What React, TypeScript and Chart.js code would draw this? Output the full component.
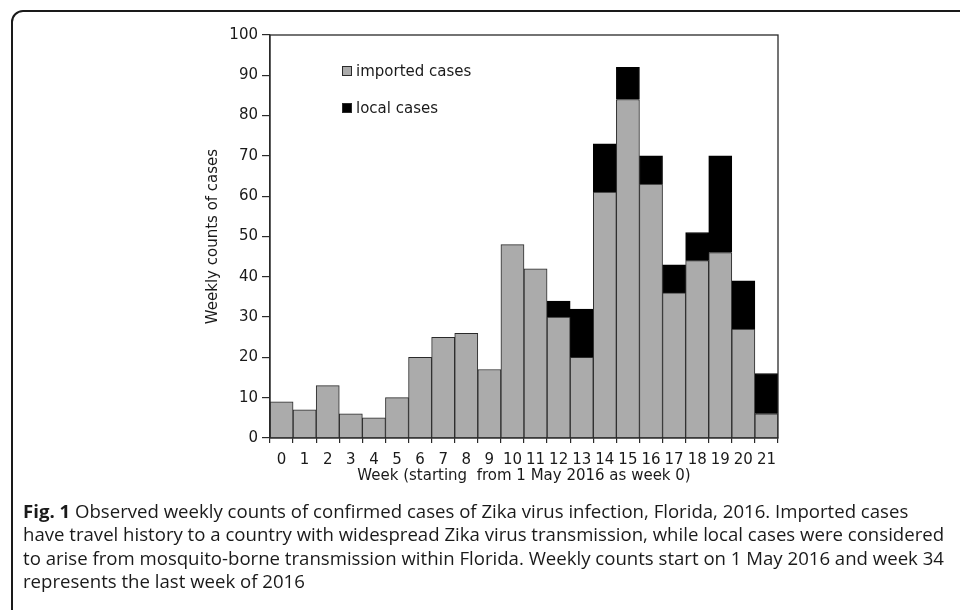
import React, { useEffect, useRef } from 'react';
import { Chart, registerables } from 'chart.js';

Chart.register(...registerables);

const weeks = ['0', '1', '2', '3', '4', '5', '6', '7', '8', '9', '10', '11', '12', '13', '14', '15', '16', '17', '18', '19', '20', '21'];
const importedCases = [9, 7, 13, 6, 5, 10, 20, 25, 26, 17, 48, 42, 30, 20, 61, 84, 63, 36, 44, 46, 27, 6];
const localCases = [null, null, null, null, null, null, null, null, null, null, null, null, 4, 12, 12, 8, 7, 7, 7, 24, 12, 10];
const seriesLabels = ['imported cases', 'local cases'];
const yAxisTitle = 'Weekly counts of cases';
const xAxisTitle = 'Week (starting  from 1 May 2016 as week 0)';
const captionLines = [
  'Observed weekly counts of confirmed cases of Zika virus infection, Florida, 2016. Imported cases',
  'have travel history to a country with widespread Zika virus transmission, while local cases were considered',
  'to arise from mosquito-borne transmission within Florida. Weekly counts start on 1 May 2016 and week 34',
  'represents the last week of 2016',
];

const FONT = '"DejaVu Sans", Arial, sans-serif';
const INK = '#1a1a1a';
const LINE = '#2a2a2a';

const insideLegend = {
  id: 'insideLegend',
  afterDatasetsDraw(chart: any) {
    const { ctx, chartArea } = chart;
    const x = chartArea.left + 72;
    const rows = [chartArea.top + 36, chartArea.top + 73];
    chart.data.datasets.forEach((ds: any, i: number) => {
      const y = rows[i];
      ctx.save();
      ctx.fillStyle = ds.backgroundColor;
      ctx.fillRect(x, y - 5, 10, 10);
      ctx.strokeStyle = LINE;
      ctx.lineWidth = 1;
      ctx.strokeRect(x + 0.5, y - 4.5, 9, 9);
      ctx.fillStyle = INK;
      ctx.font = '15px ' + FONT;
      ctx.textBaseline = 'middle';
      ctx.textAlign = 'left';
      ctx.fillText(ds.label, x + 14, y + 1);
      ctx.restore();
    });
  },
};

const plotFrame = {
  id: 'plotFrame',
  afterDraw(chart: any) {
    const { ctx, chartArea } = chart;
    ctx.save();
    ctx.strokeStyle = LINE;
    ctx.lineWidth = 1.3;
    ctx.strokeRect(chartArea.left, chartArea.top, chartArea.right - chartArea.left, chartArea.bottom - chartArea.top);
    ctx.restore();
  },
};

export default function App() {
  const canvasRef = useRef<HTMLCanvasElement | null>(null);

  useEffect(() => {
    if (!canvasRef.current) return;
    const chart = new Chart(canvasRef.current, {
      type: 'bar',
      data: {
        labels: weeks,
        datasets: [
          {
            label: seriesLabels[0],
            data: importedCases,
            backgroundColor: '#ababab',
            borderColor: LINE,
            borderWidth: 1,
            barPercentage: 1,
            categoryPercentage: 1,
          },
          {
            label: seriesLabels[1],
            data: localCases as any,
            backgroundColor: '#000000',
            borderColor: '#000000',
            borderWidth: 1,
            barPercentage: 1,
            categoryPercentage: 1,
          },
        ],
      },
      options: {
        responsive: false,
        animation: false,
        layout: { padding: { left: 195, right: 182, top: 35, bottom: 0 } },
        plugins: {
          legend: { display: false },
          tooltip: { enabled: false },
        },
        scales: {
          x: {
            stacked: true,
            offset: true,
            grid: { offset: true, drawOnChartArea: false, drawTicks: true, tickLength: 5, color: LINE, lineWidth: 1.2 },
            border: { color: LINE, width: 1.3 },
            ticks: { color: INK, font: { family: FONT, size: 15 }, padding: 8, maxRotation: 0, autoSkip: false },
            title: { display: true, text: xAxisTitle, color: INK, font: { family: FONT, size: 15 }, padding: { top: 0, bottom: 15 } },
            afterFit: (s: any) => { s.height = 62; },
          },
          y: {
            stacked: true,
            min: 0,
            max: 100,
            ticks: { stepSize: 10, color: INK, font: { family: FONT, size: 15 }, padding: 4 },
            grid: { drawOnChartArea: false, drawTicks: true, tickLength: 8, color: LINE, lineWidth: 1.2 },
            border: { color: LINE, width: 1.3 },
            title: { display: true, text: yAxisTitle, color: INK, font: { family: FONT, size: 15 }, padding: { top: 9, bottom: 0 } },
            afterFit: (s: any) => { s.width = 75; },
          },
        },
      },
      plugins: [insideLegend, plotFrame],
    } as any);
    return () => chart.destroy();
  }, []);

  return (
    <div style={{ position: 'fixed', left: 0, top: 0, width: 960, height: 610, overflow: 'hidden', background: '#fff' }}>
      <div
        style={{
          position: 'absolute',
          left: 11,
          top: 10,
          width: 1100,
          height: 800,
          border: '2px solid #1a1a1a',
          borderTopLeftRadius: 12,
          boxSizing: 'border-box',
        }}
      />
      <canvas ref={canvasRef} width={960} height={500} style={{ position: 'absolute', left: 0, top: 0, width: 960, height: 500 }} />
      <div
        style={{
          position: 'absolute',
          left: 23,
          top: 499,
          fontFamily: '"Open Sans", sans-serif',
          fontSize: 18.6,
          lineHeight: '23.4px',
          color: '#1a1a1a',
          whiteSpace: 'nowrap',
        }}
      >
        {captionLines.map((line, i) => (
          <div key={i}>
            {i === 0 ? <b>Fig. 1 </b> : null}
            {line}
          </div>
        ))}
      </div>
    </div>
  );
}
